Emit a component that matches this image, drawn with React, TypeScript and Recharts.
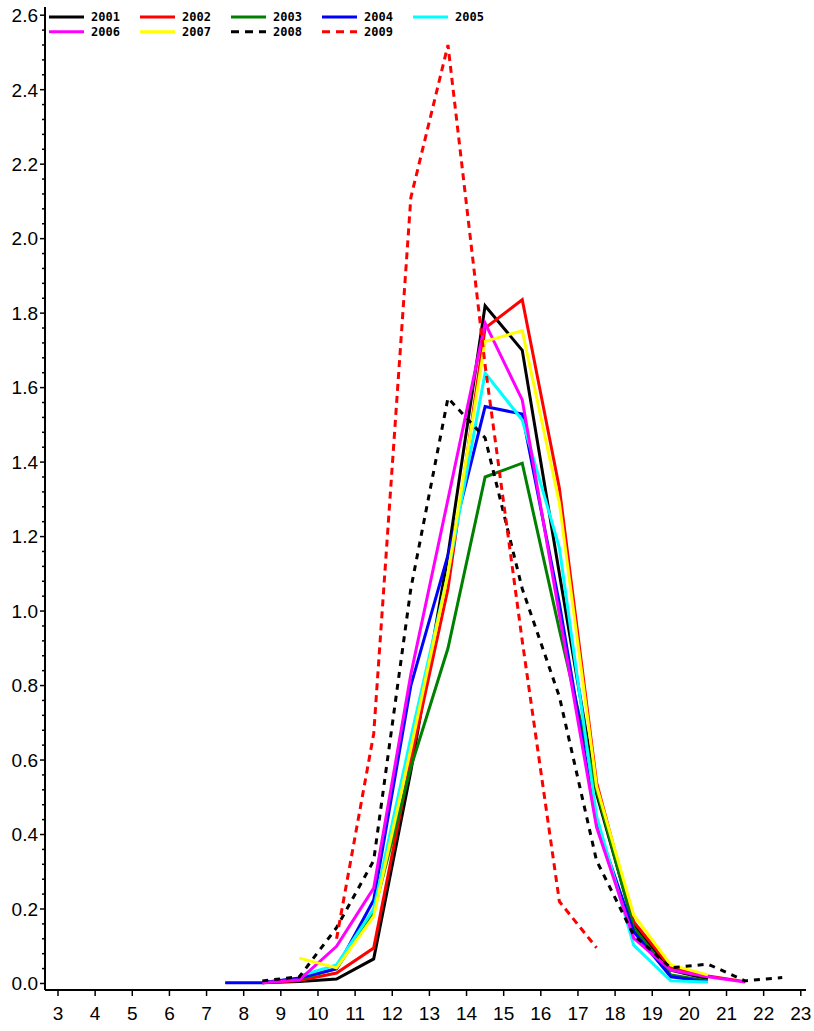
import React from 'react';
import { LineChart, Line, XAxis, YAxis, Legend } from 'recharts';

const xs = [7.5, 8.5, 9.5, 10.5, 11.5, 12.5, 13.5, 14.5, 15.5, 16.5, 17.5, 18.5, 19.5, 20.5, 21.5, 22.5];

const y2001 = [null, 0.002, 0.005, 0.012, 0.066, 0.57, 1.15, 1.82, 1.70, 1.10, 0.51, 0.157, 0.036, 0.012, null, null];
const y2002 = [null, 0.002, 0.008, 0.028, 0.095, 0.60, 1.06, 1.76, 1.836, 1.33, 0.54, 0.166, 0.042, 0.02, 0.005, null];
const y2003 = [null, 0.003, 0.012, 0.04, 0.19, 0.58, 0.90, 1.36, 1.397, 0.95, 0.52, 0.15, 0.023, 0.007, null, null];
const y2004 = [0.002, 0.002, 0.015, 0.04, 0.224, 0.80, 1.15, 1.549, 1.529, 1.02, 0.43, 0.139, 0.018, 0.005, null, null];
const y2005 = [null, null, 0.02, 0.05, 0.20, 0.66, 1.10, 1.639, 1.513, 1.17, 0.45, 0.103, 0.007, 0.004, null, null];
const y2006 = [null, 0.002, 0.01, 0.10, 0.256, 0.83, 1.30, 1.773, 1.567, 0.99, 0.42, 0.122, 0.036, 0.018, 0.004, null];
const y2007 = [null, null, 0.068, 0.042, 0.18, 0.63, 1.10, 1.724, 1.753, 1.29, 0.53, 0.184, 0.05, 0.023, null, null];
const y2008 = [null, 0.007, 0.018, 0.15, 0.33, 1.06, 1.572, 1.465, 1.06, 0.77, 0.33, 0.13, 0.042, 0.052, 0.007, 0.016];
const y2009 = [null, null, null, 0.12, 0.67, 2.11, 2.52, 1.66, 0.92, 0.22, 0.096, null, null, null, null, null];

const xTicks = [3, 4, 5, 6, 7, 8, 9, 10, 11, 12, 13, 14, 15, 16, 17, 18, 19, 20, 21, 22, 23];
const yMajorTicks = [0, 0.2, 0.4, 0.6, 0.8, 1.0, 1.2, 1.4, 1.6, 1.8, 2.0, 2.2, 2.4, 2.6];
const yMinorPerMajor = 5;

const series = [
  { key: 'y2001', name: '2001', values: y2001, color: '#000000', dash: undefined as string | undefined },
  { key: 'y2002', name: '2002', values: y2002, color: '#ff0000', dash: undefined },
  { key: 'y2003', name: '2003', values: y2003, color: '#008000', dash: undefined },
  { key: 'y2004', name: '2004', values: y2004, color: '#0000ff', dash: undefined },
  { key: 'y2005', name: '2005', values: y2005, color: '#00ffff', dash: undefined },
  { key: 'y2006', name: '2006', values: y2006, color: '#ff00ff', dash: undefined },
  { key: 'y2007', name: '2007', values: y2007, color: '#ffff00', dash: undefined },
  { key: 'y2008', name: '2008', values: y2008, color: '#000000', dash: '6 6' },
  { key: 'y2009', name: '2009', values: y2009, color: '#ff0000', dash: '7 5' },
];

const data = xs.map((x, i) => {
  const row: Record<string, number | null> = { x };
  series.forEach((s) => {
    row[s.key] = s.values[i];
  });
  return row;
});

const yAllTicks: number[] = [];
for (let i = 0; i < yMajorTicks.length - 1; i++) {
  const a = yMajorTicks[i];
  const b = yMajorTicks[i + 1];
  for (let k = 0; k < yMinorPerMajor; k++) {
    yAllTicks.push(Math.round((a + ((b - a) * k) / yMinorPerMajor) * 1000) / 1000);
  }
}
yAllTicks.push(yMajorTicks[yMajorTicks.length - 1]);

const isMajor = (v: number) => yMajorTicks.some((m) => Math.abs(m - v) < 1e-6);

const XDOMAIN: [number, number] = [2.65, 23.14];
const YDOMAIN: [number, number] = [-0.0175, 2.622];

const FONT = '"Liberation Sans", Arial, sans-serif';

const YTick = (props: any) => {
  const { x, y, payload } = props;
  const v = payload.value as number;
  const major = isMajor(v);
  return (
    <g>
      <line x1={x + (major ? 2 : 4)} x2={x + 7} y1={y} y2={y} stroke="#000" strokeWidth={1.5} />
      {major && (
        <text x={x} y={y} dy="0.36em" textAnchor="end" fontSize={19} fontFamily={FONT} fill="#000">
          {v.toFixed(1)}
        </text>
      )}
    </g>
  );
};

const LegendContent = () => {
  const colW = 91;
  const rowH = 14.7;
  return (
    <svg width={470} height={36} style={{ display: 'block', overflow: 'visible' }}>
      {series.map((s, i) => {
        const col = i % 5;
        const row = Math.floor(i / 5);
        const x0 = col * colW;
        const yy = 8 + row * rowH;
        return (
          <g key={s.key}>
            <line x1={x0} x2={x0 + 35} y1={yy} y2={yy} stroke={s.color} strokeWidth={3} strokeDasharray={s.dash ? '8 6' : undefined} />
            <text x={x0 + 42} y={yy} dy="0.36em" fontSize={12} fontWeight="bold" fontFamily='"DejaVu Sans Mono", monospace' fill="#000">
              {s.name}
            </text>
          </g>
        );
      })}
    </svg>
  );
};

export default function App() {
  return (
    <div style={{ position: 'absolute', left: 0, top: 0, width: 814, height: 1031, background: '#fff' }}>
      <LineChart width={814} height={1031} data={data} margin={{ top: 7, right: 8, bottom: 0, left: 0 }}>
        <XAxis
          xAxisId={0}
          type="number"
          dataKey="x"
          domain={XDOMAIN}
          ticks={xTicks}
          interval={0}
          allowDataOverflow
          height={41}
          tickSize={6}
          tickMargin={11}
          axisLine={{ stroke: '#000', strokeWidth: 2 }}
          tickLine={{ stroke: '#000', strokeWidth: 1.5 }}
          tick={{ fill: '#000', fontSize: 19, fontFamily: FONT }}
        />
        <XAxis
          xAxisId="top"
          orientation="top"
          type="number"
          dataKey="x"
          domain={XDOMAIN}
          allowDataOverflow
          height={0}
          tick={false}
          tickLine={false}
          axisLine={{ stroke: '#000', strokeWidth: 2 }}
        />
        <YAxis
          yAxisId={0}
          type="number"
          domain={YDOMAIN}
          ticks={yAllTicks}
          interval={0}
          allowDataOverflow
          width={45}
          tickSize={5}
          tickMargin={2}
          tickLine={false}
          axisLine={{ stroke: '#000', strokeWidth: 2 }}
          tick={<YTick />}
        />
        <YAxis
          yAxisId="right"
          orientation="right"
          type="number"
          domain={YDOMAIN}
          allowDataOverflow
          width={0}
          tick={false}
          tickLine={false}
          axisLine={{ stroke: '#000', strokeWidth: 2 }}
        />
        <Legend
          layout="vertical"
          align="center"
          verticalAlign="middle"
          content={<LegendContent />}
          wrapperStyle={{ position: 'absolute', left: 49, top: 9, width: 470, height: 36 }}
        />
        {series.map((s) => (
          <Line
            key={s.key}
            xAxisId={0}
            yAxisId={0}
            type="linear"
            dataKey={s.key}
            name={s.name}
            stroke={s.color}
            strokeWidth={3}
            strokeDasharray={s.dash}
            dot={false}
            activeDot={false}
            isAnimationActive={false}
          />
        ))}
      </LineChart>
    </div>
  );
}
